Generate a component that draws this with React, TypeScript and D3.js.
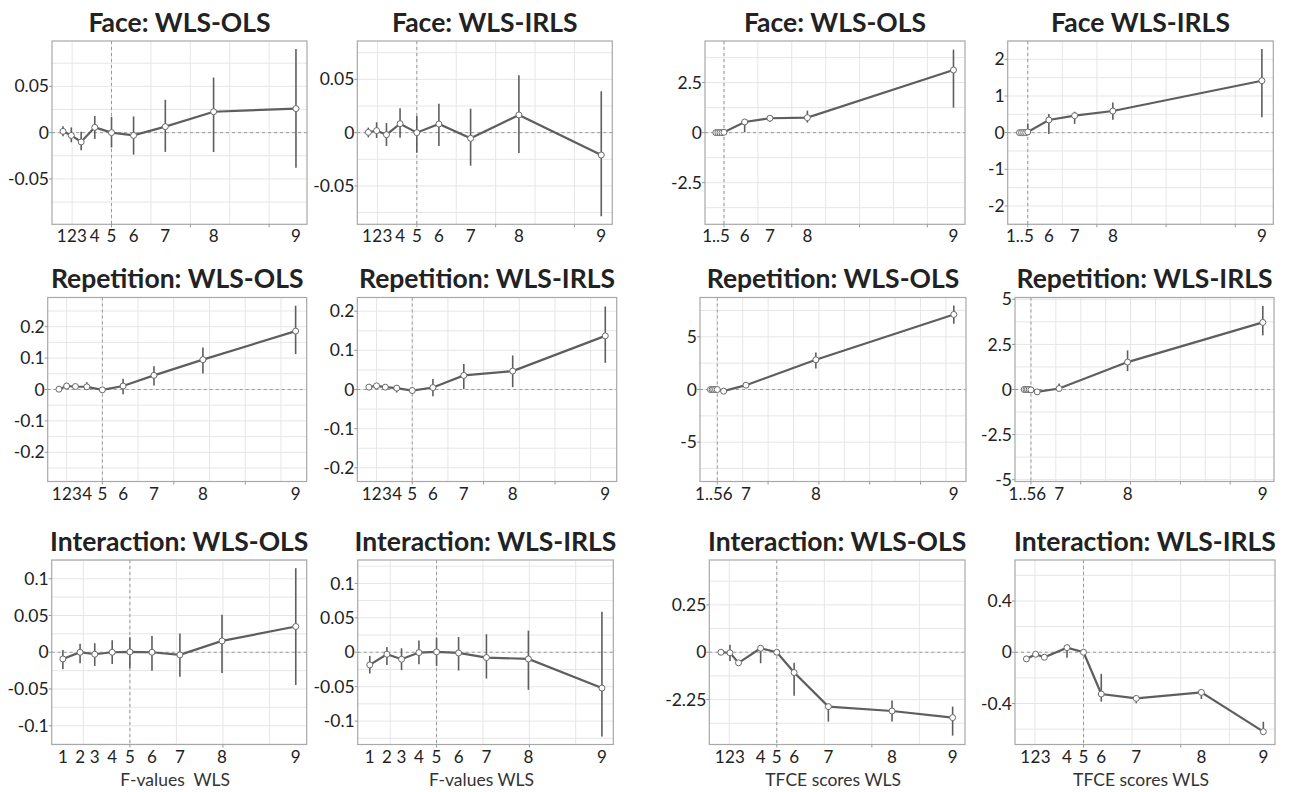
import React from 'react';
import * as d3 from 'd3';

// ---------- X positions (decile positions on the WLS score axis, in grid units) ----------
const faceFx = [0.77, 0.98, 1.23, 1.575, 2.0, 2.56, 3.365, 4.59, 6.68];
const repFx = [0.784, 1.0, 1.245, 1.565, 2.0, 2.58, 3.445, 4.815, 7.41];
const intFx = [0.56, 0.93, 1.245, 1.62, 2.0, 2.475, 3.075, 3.98, 5.565];
const faceTx = [-0.24, -0.18, -0.12, -0.06, 0, 0.61, 1.356, 2.46, 6.77];
const repTx = [-0.27, -0.2, -0.14, -0.07, 0, 0.25, 1.13, 3.88, 9.31];
const intTx = [0.825, 1.015, 1.195, 1.66, 2.0, 2.365, 3.085, 4.425, 5.7];

// ---------- X tick labels ----------
const fLabels = ['1', '2', '3', '4', '5', '6', '7', '8', '9'];
const tfceFaceLabels = ['', '', '', '', '1..5', '6', '7', '8', '9'];
const tfceRepLabels = ['', '', '', '', '', '1..56', '7', '8', '9'];

// ---------- Row 1: Face ----------
const faceOlsF = [0.0014, -0.003, -0.01, 0.0057, 0, -0.003, 0.0065, 0.0226, 0.026];
const faceOlsFHi = [0.0068, 0.0057, 0.001, 0.018, 0.017, 0.0175, 0.0355, 0.0595, 0.0903];
const faceOlsFLo = [-0.004, -0.0104, -0.019, -0.0068, -0.016, -0.0237, -0.0208, -0.021, -0.038];

const faceIrlsF = [0.0003, 0.0019, -0.0019, 0.0084, 0, 0.0081, -0.0053, 0.0166, -0.021];
const faceIrlsFHi = [0.0047, 0.0097, 0.009, 0.0228, 0.0156, 0.0272, 0.0225, 0.0538, 0.0388];
const faceIrlsFLo = [-0.0044, -0.005, -0.0125, -0.0047, -0.0188, -0.0125, -0.031, -0.019, -0.0785];

const faceOlsT = [0, 0, 0, 0, 0.02, 0.535, 0.72, 0.75, 3.13];
const faceOlsTHi = [0.04, 0.04, 0.04, 0.04, 0.1, 0.56, 0.8, 1.1, 4.15];
const faceOlsTLo = [-0.04, -0.04, -0.04, -0.04, -0.05, 0.02, 0.55, 0.5, 1.25];

const faceIrlsT = [0, 0, 0, 0, 0.02, 0.346, 0.463, 0.59, 1.417];
const faceIrlsTHi = [0.02, 0.02, 0.02, 0.02, 0.25, 0.51, 0.57, 0.82, 2.28];
const faceIrlsTLo = [-0.02, -0.02, -0.02, -0.02, -0.03, -0.04, 0.24, 0.35, 0.42];

// ---------- Row 2: Repetition ----------
const repOlsF = [0.001, 0.011, 0.0096, 0.0086, -0.001, 0.011, 0.045, 0.095, 0.186];
const repOlsFHi = [0.004, 0.017, 0.015, 0.023, 0.006, 0.034, 0.074, 0.134, 0.267];
const repOlsFLo = [-0.002, 0.002, 0.004, 0.0, -0.008, -0.015, 0.013, 0.051, 0.113];

const repIrlsF = [0.006, 0.0094, 0.006, 0.0036, -0.0026, 0.005, 0.036, 0.047, 0.137];
const repIrlsFHi = [0.009, 0.014, 0.012, 0.011, 0.006, 0.027, 0.065, 0.087, 0.212];
const repIrlsFLo = [0.003, 0.004, -0.001, -0.0077, -0.011, -0.017, 0.001, 0.006, 0.068];

const repOlsT = [0, 0, 0, 0, 0, -0.16, 0.41, 2.82, 7.12];
const repOlsTHi = [0.1, 0.1, 0.1, 0.1, 0.1, 0.0, 0.6, 3.5, 7.97];
const repOlsTLo = [-0.1, -0.1, -0.1, -0.1, -0.1, -0.3, 0.19, 1.99, 6.24];

const repIrlsT = [0, 0, 0, 0, -0.02, -0.13, 0.056, 1.52, 3.72];
const repIrlsTHi = [0.05, 0.05, 0.05, 0.05, 0.05, 0.0, 0.33, 2.17, 4.63];
const repIrlsTLo = [-0.05, -0.05, -0.05, -0.05, -0.1, -0.25, -0.1, 1.02, 3.0];

// ---------- Row 3: Interaction ----------
const intOlsF = [-0.0091, 0, -0.0027, 0, 0.0005, 0, -0.0036, 0.0154, 0.035];
const intOlsFHi = [0.0032, 0.0114, 0.0123, 0.0163, 0.0204, 0.0222, 0.0254, 0.0509, 0.1144];
const intOlsFLo = [-0.0227, -0.015, -0.0186, -0.0159, -0.0218, -0.025, -0.0332, -0.0282, -0.0445];

const intIrlsF = [-0.0184, -0.0029, -0.0101, -0.0005, 0.0005, -0.001, -0.0077, -0.0097, -0.052];
const intIrlsFHi = [-0.0053, 0.0077, 0.0058, 0.0169, 0.0213, 0.0222, 0.0261, 0.0314, 0.0589];
const intIrlsFLo = [-0.0309, -0.0184, -0.026, -0.0174, -0.0198, -0.0266, -0.0382, -0.0546, -0.1222];

const intOlsT = [0, -0.003, -0.056, 0.021, 0, -0.107, -0.287, -0.31, -0.345];
const intOlsTHi = [0.004, 0.039, -0.052, 0.03, 0.005, -0.055, -0.278, -0.255, -0.287];
const intOlsTLo = [-0.004, -0.046, -0.06, -0.058, -0.005, -0.229, -0.366, -0.366, -0.44];

const intIrlsT = [-0.052, -0.0156, -0.039, 0.036, 0, -0.326, -0.36, -0.313, -0.62];
const intIrlsTHi = [-0.046, -0.01, -0.034, 0.036, 0.005, -0.169, -0.346, -0.3, -0.542];
const intIrlsTLo = [-0.058, -0.021, -0.044, -0.042, -0.005, -0.385, -0.398, -0.365, -0.646];

// ---------- Y ticks ----------
const ticks005 = [-0.05, 0, 0.05];
const labels005 = ['-0.05', '0', '0.05'];
const ticks25 = [-2.5, 0, 2.5];
const labels25 = ['-2.5', '0', '2.5'];
const ticks1 = [-2, -1, 0, 1, 2];
const labels1 = ['-2', '-1', '0', '1', '2'];
const ticks01 = [-0.2, -0.1, 0, 0.1, 0.2];
const labels01 = ['-0.2', '-0.1', '0', '0.1', '0.2'];
const ticks5 = [-5, 0, 5];
const labels5 = ['-5', '0', '5'];
const ticks5b = [-5, -2.5, 0, 2.5, 5];
const labels5b = ['-5', '-2.5', '0', '2.5', '5'];
const ticksInt = [-0.1, -0.05, 0, 0.05, 0.1];
const labelsInt = ['-0.1', '-0.05', '0', '0.05', '0.1'];
const ticksIntT = [-0.25, 0, 0.25];
const labelsIntT = ['-2.25', '0', '0.25'];
const ticks04 = [-0.4, 0, 0.4];
const labels04 = ['-0.4', '0', '0.4'];

// ---------- Titles ----------
const titles = [
  'Face: WLS-OLS', 'Face: WLS-IRLS', 'Face: WLS-OLS', 'Face WLS-IRLS',
  'Repetition: WLS-OLS', 'Repetition: WLS-IRLS', 'Repetition: WLS-OLS', 'Repetition: WLS-IRLS',
  'Interaction: WLS-OLS', 'Interaction: WLS-IRLS', 'Interaction: WLS-OLS', 'Interaction: WLS-IRLS',
];
const axisTitles = ['F-values  WLS', 'F-values WLS', 'TFCE scores WLS', 'TFCE scores WLS'];

// ---------- Panel layout (pixel boxes) ----------
const rowY = [[41, 224.3], [297.5, 481.5], [560, 744.5]];
const colBoxes = [
  [[52, 307], [357.3, 612.3], [705, 965], [1007.7, 1273.3]],
  [[47.7, 306.7], [357.3, 616.7], [700, 966], [1015, 1274]],
  [[51.7, 306.7], [357.7, 613.3], [709.3, 965], [1015, 1275]],
];

type PanelSpec = {
  xs: number[]; labels: string[]; mean: number[]; hi: number[]; lo: number[];
  xDomain: [number, number]; grid: [number, number];
  yDomain: [number, number]; yStep: number; yTicks: number[]; yLabels: string[];
};

const panels: PanelSpec[] = [
  { xs: faceFx, labels: fLabels, mean: faceOlsF, hi: faceOlsFHi, lo: faceOlsFLo, xDomain: [0.49, 6.96], grid: [1, 6], yDomain: [-0.099, 0.099], yStep: 0.025, yTicks: ticks005, yLabels: labels005 },
  { xs: faceFx, labels: fLabels, mean: faceIrlsF, hi: faceIrlsFHi, lo: faceIrlsFLo, xDomain: [0.49, 6.96], grid: [1, 6], yDomain: [-0.086, 0.086], yStep: 0.025, yTicks: ticks005, yLabels: labels005 },
  { xs: faceTx, labels: tfceFaceLabels, mean: faceOlsT, hi: faceOlsTHi, lo: faceOlsTLo, xDomain: [-0.56, 7.11], grid: [0, 6], yDomain: [-4.58, 4.58], yStep: 1.25, yTicks: ticks25, yLabels: labels25 },
  { xs: faceTx, labels: tfceFaceLabels, mean: faceIrlsT, hi: faceIrlsTHi, lo: faceIrlsTLo, xDomain: [-0.58, 7.1], grid: [0, 6], yDomain: [-2.5, 2.5], yStep: 0.5, yTicks: ticks1, yLabels: labels1 },

  { xs: repFx, labels: fLabels, mean: repOlsF, hi: repOlsFHi, lo: repOlsFLo, xDomain: [0.47, 7.72], grid: [1, 7], yDomain: [-0.293, 0.293], yStep: 0.05, yTicks: ticks01, yLabels: labels01 },
  { xs: repFx, labels: fLabels, mean: repIrlsF, hi: repIrlsFHi, lo: repIrlsFLo, xDomain: [0.46, 7.73], grid: [1, 7], yDomain: [-0.235, 0.235], yStep: 0.05, yTicks: ticks01, yLabels: labels01 },
  { xs: repTx, labels: tfceRepLabels, mean: repOlsT, hi: repOlsTHi, lo: repOlsTLo, xDomain: [-0.68, 9.79], grid: [0, 9], yDomain: [-8.73, 8.73], yStep: 2.5, yTicks: ticks5, yLabels: labels5 },
  { xs: repTx, labels: tfceRepLabels, mean: repIrlsT, hi: repIrlsTHi, lo: repIrlsTLo, xDomain: [-0.64, 9.76], grid: [0, 9], yDomain: [-5.1, 5.1], yStep: 1.25, yTicks: ticks5b, yLabels: labels5b },

  { xs: intFx, labels: fLabels, mean: intOlsF, hi: intOlsFHi, lo: intOlsFLo, xDomain: [0.32, 5.8], grid: [1, 5], yDomain: [-0.1255, 0.1255], yStep: 0.025, yTicks: ticksInt, yLabels: labelsInt },
  { xs: intFx, labels: fLabels, mean: intIrlsF, hi: intIrlsFHi, lo: intIrlsFLo, xDomain: [0.3, 5.81], grid: [1, 5], yDomain: [-0.134, 0.134], yStep: 0.025, yTicks: ticksInt, yLabels: labelsInt },
  { xs: intTx, labels: fLabels, mean: intOlsT, hi: intOlsTHi, lo: intOlsTLo, xDomain: [0.58, 5.96], grid: [1, 5], yDomain: [-0.487, 0.487], yStep: 0.125, yTicks: ticksIntT, yLabels: labelsIntT },
  { xs: intTx, labels: fLabels, mean: intIrlsT, hi: intIrlsTHi, lo: intIrlsTLo, xDomain: [0.59, 5.94], grid: [1, 5], yDomain: [-0.72, 0.72], yStep: 0.2, yTicks: ticks04, yLabels: labels04 },
];

const FONT = 'Lato, "Open Sans", "DejaVu Sans", sans-serif';
const LINE = '#5e5e5e';
const XLAB_SIZE = 17;
const DIGIT_W = 10.2;

type Lab = { text: string; pos: number; anchor: 'middle' | 'end' };

// spread single-digit labels apart so neighbouring digits do not collide
function placeLabels(labs: Lab[]): Lab[] {
  const out = labs.map((l) => ({ ...l }));
  for (let it = 0; it < 40; it++) {
    for (let i = 1; i < out.length; i++) {
      const a = out[i - 1];
      const b = out[i];
      if (a.anchor !== 'middle' || b.anchor !== 'middle') continue;
      const overlap = a.pos + DIGIT_W - b.pos;
      if (overlap > 0) {
        a.pos -= overlap / 2;
        b.pos += overlap / 2;
      }
    }
  }
  return out;
}

function Panel({ spec, idx }: { spec: PanelSpec; idx: number }) {
  const row = Math.floor(idx / 4);
  const col = idx % 4;
  const [bx0, bx1] = colBoxes[row][col];
  const [by0, by1] = rowY[row];
  const x = d3.scaleLinear().domain(spec.xDomain).range([bx0, bx1]);
  const y = d3.scaleLinear().domain(spec.yDomain).range([by1, by0]);

  const gridX = d3.range(spec.grid[0], spec.grid[1] + 0.001, 1);
  const nStep = Math.floor(spec.yDomain[1] / spec.yStep + 1e-6);
  const gridY = d3.range(-nStep, nStep + 1).map((k) => k * spec.yStep);
  const thresholdX = spec.xs[4];
  const majorX = gridX.filter((g) => Math.abs(((g - thresholdX) / 2) - Math.round((g - thresholdX) / 2)) < 1e-6);

  const pts = spec.xs.map((xv, i) => ({ xv, m: spec.mean[i], hi: spec.hi[i], lo: spec.lo[i], label: spec.labels[i] }));
  const line = d3.line<{ xv: number; m: number }>().x((d) => x(d.xv)).y((d) => y(d.m));

  const labs: Lab[] = placeLabels(
    pts
      .filter((p) => p.label)
      .map((p) => {
        const ranged = p.label.includes('..');
        return {
          text: p.label,
          pos: x(p.xv) + (ranged ? (p.label.length > 4 ? 9 : 6) : 0),
          anchor: ranged ? 'end' : 'middle',
        } as Lab;
      })
  );

  return (
    <g>
      {/* grid */}
      {gridY.map((g, i) => (
        <line key={'gy' + i} x1={bx0} x2={bx1} y1={y(g)} y2={y(g)} stroke="#e6e6e6" strokeWidth={1} />
      ))}
      {gridX.map((g, i) => (
        <line key={'gx' + i} x1={x(g)} x2={x(g)} y1={by0} y2={by1} stroke="#e6e6e6" strokeWidth={1} />
      ))}
      {/* reference dashed lines */}
      <line x1={bx0} x2={bx1} y1={y(0)} y2={y(0)} stroke="#9a9a9a" strokeWidth={1} strokeDasharray="3,3" />
      <line x1={x(thresholdX)} x2={x(thresholdX)} y1={by0} y2={by1} stroke="#9a9a9a" strokeWidth={1} strokeDasharray="3,3" />
      {/* frame */}
      <rect x={bx0} y={by0} width={bx1 - bx0} height={by1 - by0} fill="none" stroke="#a8a8a8" strokeWidth={1.2} />
      {/* x tick marks */}
      {majorX.map((g, i) => (
        <line key={'xt' + i} x1={x(g)} x2={x(g)} y1={by1} y2={by1 + 3} stroke="#999" strokeWidth={1} />
      ))}
      {/* y ticks + labels */}
      {spec.yTicks.map((t, i) => (
        <g key={'yt' + i}>
          <line x1={bx0 - 3} x2={bx0} y1={y(t)} y2={y(t)} stroke="#999" strokeWidth={1} />
          <text x={bx0 - 3} y={y(t)} dy="0.35em" textAnchor="end" fontFamily={FONT} fontSize={17.5} fill="#222">
            {spec.yLabels[i]}
          </text>
        </g>
      ))}
      {/* x labels */}
      {labs.map((l, i) => (
        <text
          key={'xl' + i}
          x={l.pos}
          y={by1 + 18}
          textAnchor={l.anchor}
          fontFamily={FONT}
          fontSize={XLAB_SIZE}
          fill="#222"
        >
          {l.text}
        </text>
      ))}
      {/* error bars */}
      {pts.map((p, i) => (
        <line key={'eb' + i} x1={x(p.xv)} x2={x(p.xv)} y1={y(p.hi)} y2={y(p.lo)} stroke={LINE} strokeWidth={1.6} />
      ))}
      {/* line */}
      <path d={line(pts) || ''} fill="none" stroke={LINE} strokeWidth={2.2} />
      {/* points */}
      {pts.map((p, i) => (
        <circle key={'pt' + i} cx={x(p.xv)} cy={y(p.m)} r={3} fill="#fff" stroke="#6a6a6a" strokeWidth={1} />
      ))}
      {/* title */}
      <text x={(bx0 + bx1) / 2} y={by0 - 9.5} textAnchor="middle" fontFamily={FONT} fontWeight={700} fontSize={26.5} fill="#222">
        {titles[idx]}
      </text>
      {row === 2 ? (
        <text
          x={(bx0 + bx1) / 2 - 4}
          y={786}
          textAnchor="middle"
          fontFamily={FONT}
          fontSize={17.5}
          fill="#333"
          style={{ whiteSpace: 'pre' }}
        >
          {axisTitles[col]}
        </text>
      ) : null}
    </g>
  );
}

export default function App() {
  return (
    <svg
      width={1294}
      height={792}
      viewBox="0 0 1294 792"
      style={{ position: 'absolute', left: 0, top: 0, background: '#fff' }}
    >
      <rect x={0} y={0} width={1294} height={792} fill="#fff" />
      {panels.map((p, i) => (
        <Panel key={i} spec={p} idx={i} />
      ))}
    </svg>
  );
}
